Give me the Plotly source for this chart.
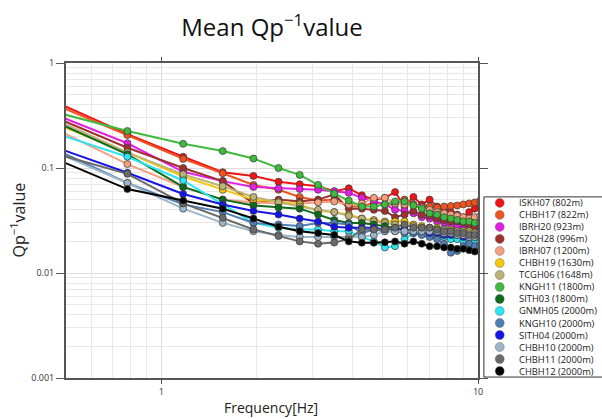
import plotly.graph_objects as go

# ---------------- data ----------------
freq = [n * 0.390625 for n in range(1, 27)]

stations = ["ISKH07 (802m)", "CHBH17 (822m)", "IBRH20 (923m)", "SZOH28 (996m)",
            "IBRH07 (1200m)", "CHBH19 (1630m)", "TCGH06 (1648m)", "KNGH11 (1800m)",
            "SITH03 (1800m)", "GNMH05 (2000m)", "KNGH10 (2000m)", "SITH04 (2000m)",
            "CHBH10 (2000m)", "CHBH11 (2000m)", "CHBH12 (2000m)"]

colors = ["#ee1414", "#ef5420", "#e41ee4", "#a0302e", "#f3a07f", "#f4c80e",
          "#bdb377", "#3fba3f", "#0c6a1a", "#2ee4f0", "#4f7eb8", "#1414e6",
          "#9db6c9", "#6a6a6a", "#000000"]

ISKH07 = [0.535, 0.21, 0.128, 0.091, 0.084, 0.074, 0.070, 0.067, 0.060, 0.064, 0.055, 0.050, 0.052,
          0.059, 0.043, 0.053, 0.045, 0.050, 0.043, 0.040, 0.038, 0.036, 0.034, 0.038, 0.041, 0.043]
CHBH17 = [0.50, 0.206, 0.122, 0.089, 0.069, 0.062, 0.053, 0.049, 0.050, 0.043, 0.043, 0.047, 0.045,
          0.045, 0.050, 0.045, 0.043, 0.043, 0.042, 0.043, 0.0435, 0.044, 0.045, 0.046, 0.047, 0.049]
IBRH20 = [0.394, 0.172, 0.092, 0.075, 0.066, 0.064, 0.063, 0.062, 0.060, 0.058, 0.052, 0.048, 0.045,
          0.040, 0.039, 0.037, 0.034, 0.033, 0.031, 0.030, 0.029, 0.028, 0.027, 0.027, 0.026, 0.025]
SZOH28 = [0.376, 0.156, 0.100, 0.075, 0.046, 0.050, 0.048, 0.050, 0.056, 0.041, 0.041, 0.040, 0.039,
          0.034, 0.036, 0.039, 0.036, 0.035, 0.033, 0.032, 0.031, 0.031, 0.030, 0.029, 0.028, 0.028]
IBRH07 = [0.303, 0.109, 0.066, 0.050, 0.047, 0.046, 0.046, 0.047, 0.048, 0.045, 0.046, 0.052, 0.052,
          0.046, 0.045, 0.045, 0.042, 0.040, 0.038, 0.037, 0.036, 0.035, 0.034, 0.033, 0.034, 0.035]
CHBH19 = [0.324, 0.140, 0.083, 0.062, 0.050, 0.048, 0.045, 0.039, 0.038, 0.036, 0.033, 0.032, 0.031,
          0.031, 0.031, 0.029, 0.028, 0.027, 0.027, 0.026, 0.026, 0.025, 0.025, 0.025, 0.024, 0.024]
TCGH06 = [0.366, 0.141, 0.087, 0.067, 0.053, 0.047, 0.043, 0.040, 0.038, 0.035, 0.033, 0.031, 0.030,
          0.029, 0.028, 0.028, 0.027, 0.027, 0.026, 0.026, 0.025, 0.025, 0.025, 0.024, 0.024, 0.024]
KNGH11 = [0.39, 0.225, 0.170, 0.145, 0.123, 0.100, 0.086, 0.069, 0.057, 0.049, 0.043, 0.043, 0.045,
          0.048, 0.048, 0.044, 0.041, 0.037, 0.036, 0.034, 0.033, 0.032, 0.031, 0.031, 0.030, 0.030]
SITH03 = [0.346, 0.135, 0.066, 0.050, 0.044, 0.042, 0.041, 0.036, 0.032, 0.030, 0.030, 0.029, 0.028,
          0.027, 0.026, 0.025, 0.025, 0.024, 0.024, 0.023, 0.023, 0.022, 0.022, 0.022, 0.021, 0.021]
GNMH05 = [0.253, 0.128, 0.076, 0.045, 0.030, 0.027, 0.026, 0.026, 0.025, 0.025, 0.022, 0.020, 0.0175,
          0.018, 0.021, 0.024, 0.024, 0.023, 0.022, 0.022, 0.021, 0.021, 0.020, 0.020, 0.020, 0.020]
KNGH10 = [0.191, 0.072, 0.045, 0.038, 0.030, 0.029, 0.028, 0.030, 0.030, 0.029, 0.024, 0.026, 0.025,
          0.025, 0.024, 0.024, 0.023, 0.022, 0.021, 0.019, 0.0156, 0.0162, 0.018, 0.019, 0.018, 0.018]
SITH04 = [0.189, 0.090, 0.0565, 0.045, 0.039, 0.036, 0.033, 0.031, 0.0276, 0.027, 0.027, 0.027, 0.026,
          0.026, 0.026, 0.025, 0.025, 0.024, 0.024, 0.023, 0.023, 0.023, 0.022, 0.022, 0.022, 0.022]
CHBH10 = [0.176, 0.072, 0.041, 0.030, 0.025, 0.023, 0.022, 0.022, 0.022, 0.022, 0.022, 0.023, 0.025,
          0.025, 0.025, 0.025, 0.025, 0.025, 0.025, 0.024, 0.024, 0.023, 0.023, 0.022, 0.022, 0.022]
CHBH11 = [0.158, 0.088, 0.046, 0.0336, 0.026, 0.0225, 0.020, 0.019, 0.0195, 0.021, 0.026, 0.026, 0.026,
          0.027, 0.029, 0.027, 0.027, 0.027, 0.026, 0.025, 0.025, 0.024, 0.024, 0.023, 0.023, 0.023]
CHBH12 = [0.152, 0.063, 0.049, 0.041, 0.033, 0.0276, 0.025, 0.024, 0.023, 0.020, 0.0194, 0.0194, 0.0196,
          0.020, 0.019, 0.020, 0.019, 0.018, 0.018, 0.0175, 0.0175, 0.017, 0.017, 0.0165, 0.016, 0.016]

series = [ISKH07, CHBH17, IBRH20, SZOH28, IBRH07, CHBH19, TCGH06, KNGH11,
          SITH03, GNMH05, KNGH10, SITH04, CHBH10, CHBH11, CHBH12]

x_ticks = [1, 10]
y_ticks = [1, 0.1, 0.01, 0.001]
y_tick_labels = ["1", "0.1", "0.01", "0.001"]

# ---------------- figure ----------------
FONT = "Open Sans"
fig = go.Figure()

for name, vals, col in zip(stations, series, colors):
    fig.add_trace(go.Scatter(
        x=freq, y=vals, name=name, mode="lines+markers",
        line=dict(color=col, width=2),
        marker=dict(color=col, size=7, line=dict(color="#3a3a3a", width=0.7)),
        showlegend=False, xaxis="x", yaxis="y"))

# custom legend (symbols on a hidden helper axis)
fig.add_trace(go.Scatter(
    x=[0.14] * len(stations), y=list(range(len(stations))), mode="markers",
    marker=dict(color=colors, size=9, line=dict(color="#555", width=0.4)),
    showlegend=False, hoverinfo="skip", xaxis="x2", yaxis="y2"))

minor_x = [0.6, 0.7, 0.8, 0.9, 2, 3, 4, 5, 6, 7, 8, 9]
minor_y = ([k * 0.001 for k in range(2, 10)] + [k * 0.01 for k in range(2, 10)]
           + [k * 0.1 for k in range(2, 10)])

annotations = []
for i, name in enumerate(stations):
    annotations.append(dict(x=0.29, y=i, xref="x2", yref="y2", text=name, showarrow=False,
                            xanchor="left", yanchor="middle",
                            font=dict(family=FONT, size=9.4, color="#1a1a1a")))
annotations.append(dict(x=-0.0896, y=0.5016, xref="paper", yref="paper",
                        text="Qp<sup>−1</sup>value", textangle=-90, showarrow=False,
                        xanchor="center", yanchor="middle",
                        font=dict(family=FONT, size=16, color="#222")))
annotations.append(dict(x=0.387, y=-0.094, xref="paper", yref="paper",
                        text="Frequency[Hz]", showarrow=False,
                        xanchor="center", yanchor="middle",
                        font=dict(family=FONT, size=14, color="#222")))

fig.update_layout(
    width=602, height=419,
    margin=dict(l=66, r=0, t=63, b=41),
    paper_bgcolor="white", plot_bgcolor="white",
    font=dict(family=FONT, size=9, color="#333"),
    title=dict(text="Mean Qp<sup>−1</sup>value", x=0.388, xref="paper", xanchor="center",
               y=0.935, yref="container", yanchor="middle",
               font=dict(family=FONT, size=24, color="#111")),
    xaxis=dict(type="log", range=[-0.30103, 1], domain=[0, 0.776],
               tickvals=x_ticks, ticktext=[str(v) for v in x_ticks],
               ticks="outside", ticklen=4, tickcolor="#555",
               showline=True, linecolor="#555", linewidth=2, mirror="ticks",
               showgrid=True, gridcolor="#dcdcdc", gridwidth=1, zeroline=False,
               minor=dict(tickmode="array", tickvals=minor_x, showgrid=True,
                          gridcolor="#e8e8e8", ticks=""),
               tickfont=dict(family=FONT, size=9, color="#333")),
    yaxis=dict(type="log", range=[-3, 0],
               tickvals=y_ticks, ticktext=y_tick_labels,
               ticks="outside", ticklen=8, tickcolor="#555",
               showline=True, linecolor="#555", linewidth=2, mirror="ticks",
               showgrid=True, gridcolor="#dcdcdc", gridwidth=1, zeroline=False,
               minor=dict(tickmode="array", tickvals=minor_y, showgrid=True,
                          gridcolor="#e8e8e8", ticks=""),
               tickfont=dict(family=FONT, size=9, color="#333")),
    xaxis2=dict(domain=[0.787, 1.0], range=[0, 1], anchor="y2", visible=False, fixedrange=True),
    yaxis2=dict(domain=[0.003, 0.575], range=[len(stations) - 0.5, -0.5], anchor="x2",
                visible=False, fixedrange=True),
    shapes=[dict(type="rect", xref="paper", yref="paper", x0=0.787, x1=1.02,
                 y0=0.003, y1=0.575, line=dict(color="#333", width=1))],
    annotations=annotations,
)

fig.write_html("out.html", config={"displayModeBar": False},
               post_script="document.body.style.margin='0';document.body.style.padding='0';"
                           "document.body.style.overflow='hidden';")
